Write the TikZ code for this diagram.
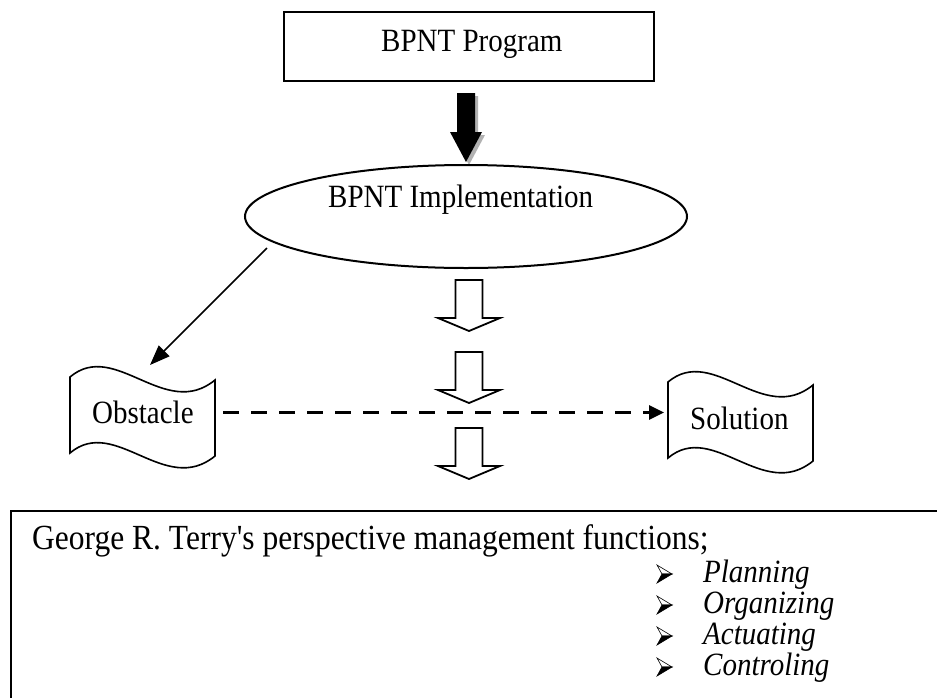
\documentclass[tikz,border=0pt]{standalone}
\usepackage{fontspec}
\setmainfont{Liberation Serif}
\usetikzlibrary{arrows.meta,shapes.geometric}
\newcommand\vstretch[1]{\scalebox{1}[1.12]{#1}}
\begin{document}
\begin{tikzpicture}[x=1pt,y=-1pt,
  lbl/.style={inner sep=0pt, font=\fontsize{29}{34}\selectfont},
  itm/.style={inner sep=0pt, font=\fontsize{29}{34}\selectfont\itshape, anchor=base west},
  frame/.style={draw=black, line width=2pt},
  tape/.pic={\draw[line width=1.6pt] (0,0) .. controls (45,-38) and (95,44) .. (145,3) -- (145,79) .. controls (95,120) and (45,38) .. (0,76) -- cycle;},
  blockarrow/.pic={\draw[line width=1.8pt, fill=white] (-13.5,0) -- (13.5,0) -- (13.5,38) -- (31,38) -- (0,51) -- (-31,38) -- (-13.5,38) -- cycle;},
  bul/.pic={\draw[line width=0.6pt, fill=white] (0,-9) -- (15,0) -- (5,0) -- cycle;
            \draw[line width=0.6pt, fill=black] (5,0) -- (15,0) -- (0,9) -- cycle;},
  thinarrow/.style={line width=1.6pt, -{Triangle[length=20pt,width=15pt]}},
  dasharrow/.style={line width=3pt, dash pattern=on 16pt off 12pt, -{Triangle[length=15pt,width=14pt]}}
]
\useasboundingbox (0,0) rectangle (937,697);

% top box
\node[frame, minimum width=370pt, minimum height=69pt, inner sep=0pt] (prog) at (469,46.5) {};
\node[lbl, anchor=base west] (progtxt) at (381,51) {\vstretch{BPNT Program}};

% black arrow with shadow
\fill[gray!60] (460,96) -- (478,96) -- (478,135) -- (485,135) -- (469,165) -- (453,135) -- (460,135) -- cycle;
\fill[black] (457,93) -- (475,93) -- (475,132) -- (482,132) -- (466,162) -- (450,132) -- (457,132) -- cycle;

% ellipse
\node[ellipse, frame, minimum width=442pt, minimum height=103pt, inner sep=0pt] (impl) at (466,216.5) {};
\node[lbl, anchor=base west] (impltxt) at (328,207) {\vstretch{BPNT Implementation}};

% hollow arrows
\pic at (469,280) {blockarrow};
\pic at (469,352) {blockarrow};
\pic at (469,428) {blockarrow};

% tapes
\pic at (70,377) {tape};
\pic at (668,382) {tape};
\node[lbl, anchor=base west] (obs) at (92,423) {\vstretch{Obstacle}};
\node[lbl, anchor=base west] (sol) at (690,429) {\vstretch{Solution}};

\coordinate (implSW) at (267,248);
\coordinate (obsTop) at (150,365);
\coordinate (obsR) at (223,412.5);
\coordinate (solL) at (664,412.5);
\draw[thinarrow] (implSW) -- (obsTop);
\draw[dasharrow] (obsR) -- (solL);

% bottom box (runs off the page)
\draw[line width=2.2pt] (940,511) -- (11,511) -- (11,700);
\node[inner sep=0pt, anchor=base west, font=\fontsize{31.5}{36}\selectfont] (terry) at (32,549) {\vstretch{George R. Terry\textquotesingle s perspective management functions;}};

\node[itm] (i1) at (703,582) {\vstretch{Planning}};
\node[itm] (i2) at (703,613) {\vstretch{Organizing}};
\node[itm] (i3) at (703,644) {\vstretch{Actuating}};
\node[itm] (i4) at (703,675) {\vstretch{Controling}};
\pic at (657,574) {bul};
\pic at (657,605) {bul};
\pic at (657,636) {bul};
\pic at (657,667) {bul};
\end{tikzpicture}
\end{document}
